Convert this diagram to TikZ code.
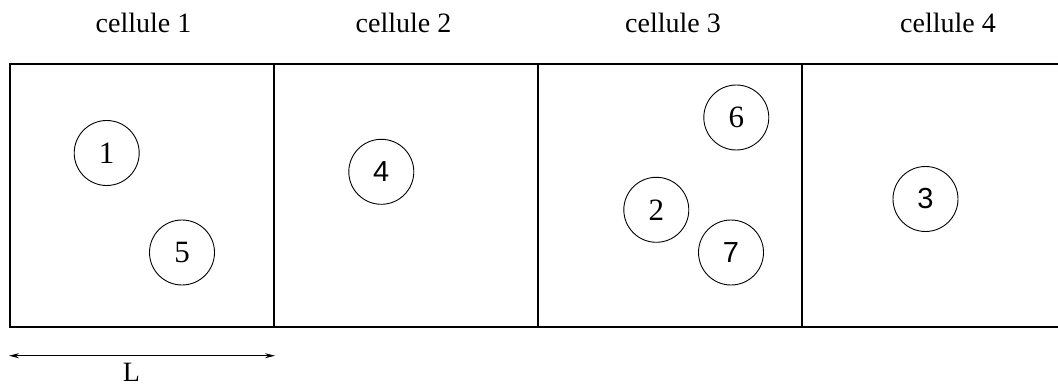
\documentclass[tikz,border=0pt]{standalone}
\usepackage{fontspec}
\setmainfont{Liberation Serif}
\newfontfamily\helv{Liberation Sans}
\usetikzlibrary{arrows.meta}
\begin{document}
\begin{tikzpicture}[x=1pt,y=-1pt,
  ball/.style={draw,circle,line width=0.9pt,minimum size=65pt,inner sep=0pt,font=\fontsize{31}{33}\selectfont},
  sball/.style={ball,font=\helv\fontsize{29}{33}\selectfont},
  lab/.style={anchor=base,inner sep=0pt,font=\fontsize{28}{31}\selectfont},
  wall/.style={line width=1.1pt,line cap=rect}]
\useasboundingbox (0,0) rectangle (1058,385);
% cells
\draw[wall] (10,64) -- (1062,64);
\draw[wall] (10,327) -- (1062,327);
\draw[wall] (10,64) -- (10,327);
\draw[wall] (274,64) -- (274,327);
\draw[wall] (538,64) -- (538,327);
\draw[wall] (802,64) -- (802,327);
% labels
\node[lab] (t1) at (143.5,32.3) {cellule 1};
\node[lab] (t2) at (403.5,32.3) {cellule 2};
\node[lab] (t3) at (673,32.3) {cellule 3};
\node[lab] (t4) at (948,32.3) {cellule 4};
% balls
\node[ball] (c1) at (106.7,153) {1};
\node[ball] (c5) at (182,252.5) {5};
\node[sball] (c4) at (381.3,171.8) {4};
\node[ball] (c6) at (736.3,117.5) {6};
\node[ball] (c2) at (656.3,209.8) {2};
\node[sball] (c7) at (731,252.5) {7};
\node[sball] (c3) at (925.5,199) {3};
% L arrow
\coordinate (La) at (9,355.7);
\coordinate (Lb) at (275,355.7);
\draw[line width=0.9pt,{Stealth[length=10pt,width=5pt]}-{Stealth[length=10pt,width=5pt]}] (La) -- (Lb);
\node[lab] (L) at (131.5,381.5) {L};
\end{tikzpicture}
\end{document}
